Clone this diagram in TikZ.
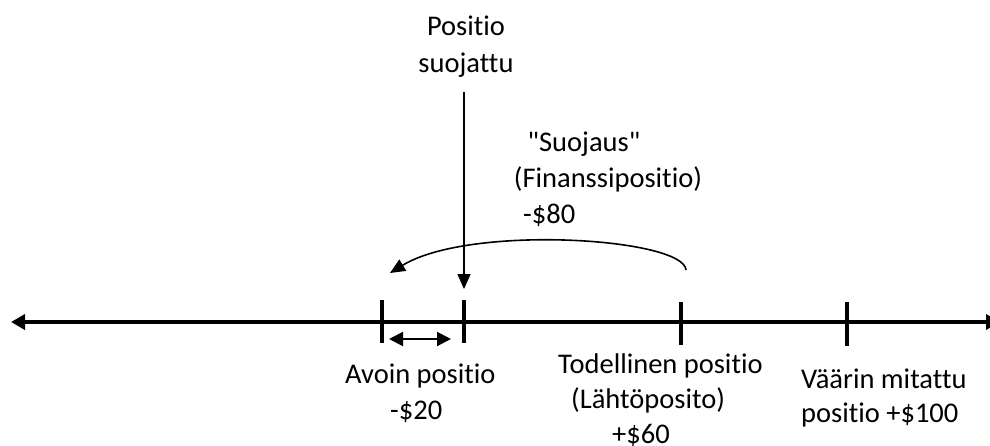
\documentclass[tikz,border=0pt]{standalone}
\usepackage{fontspec}
\setmainfont{Carlito}[Ligatures={TeXOff,CommonOff}]
\usetikzlibrary{arrows.meta}
\begin{document}
\begin{tikzpicture}[x=1pt,y=-1pt,
  lbl/.style={inner sep=0pt, font=\fontsize{28.5}{34}\selectfont},
  axisline/.style={line width=3.5pt,
    {Triangle[length=14pt,width=15pt]}-{Triangle[length=14pt,width=15pt]}},
  tickmark/.style={line width=3.5pt},
  pointer/.style={line width=1.6pt, -{Triangle[length=15pt,width=13pt]}},
  spanarrow/.style={line width=2pt,
    {Triangle[length=14pt,width=14pt]}-{Triangle[length=14pt,width=14pt]}}
]
\useasboundingbox (0,0) rectangle (990,445);

% number line
\coordinate (axL) at (11,322);
\coordinate (axR) at (1000,322);
\draw[axisline] (axL) -- (axR);

% tick marks
\coordinate (t1a) at (382,300); \coordinate (t1b) at (382,343);
\coordinate (t2a) at (464,300); \coordinate (t2b) at (464,343);
\coordinate (t3a) at (681,302); \coordinate (t3b) at (681,345);
\coordinate (t4a) at (847,302); \coordinate (t4b) at (847,346);
\draw[tickmark] (t1a) -- (t1b);
\draw[tickmark] (t2a) -- (t2b);
\draw[tickmark] (t3a) -- (t3b);
\draw[tickmark] (t4a) -- (t4b);

% open position span
\coordinate (spL) at (389,339);
\coordinate (spR) at (451,339);
\draw[spanarrow] (spL) -- (spR);

% hedged position
\node[lbl, anchor=base] (hedge1) at (466,35) {Positio};
\node[lbl, anchor=base] (hedge2) at (466,72) {suojattu};
\coordinate (hedgeTop) at (464,92);
\coordinate (hedgeTip) at (464,289);
\draw[pointer] (hedgeTop) -- (hedgeTip);

% hedge (financial position)
\node[lbl, anchor=base] (fin1) at (584,151) {"Suojaus"};
\node[lbl, anchor=base] (fin2) at (608,187) {(Finanssipositio)};
\node[lbl, anchor=base west] (fin3) at (523,223) {-\$80};
\coordinate (arcStart) at (686,270);
\coordinate (arcEnd) at (390,273);
\draw[pointer] (arcStart) .. controls (684,238) and (470,224) .. (arcEnd);

% labels under the line
\node[lbl, anchor=base west] (open1) at (345,383) {Avoin positio};
\node[lbl, anchor=base west] (open2) at (390,419) {-\$20};
\node[lbl, anchor=base west] (true1) at (558,373) {Todellinen positio};
\node[lbl, anchor=base west] (true2) at (571,408) {(Lähtöposito)};
\node[lbl, anchor=base west] (true3) at (612,443) {+\$60};
\node[lbl, anchor=base west] (wrong1) at (801,388) {Väärin mitattu};
\node[lbl, anchor=base west] (wrong2) at (801,422) {positio +\$100};
\end{tikzpicture}
\end{document}
